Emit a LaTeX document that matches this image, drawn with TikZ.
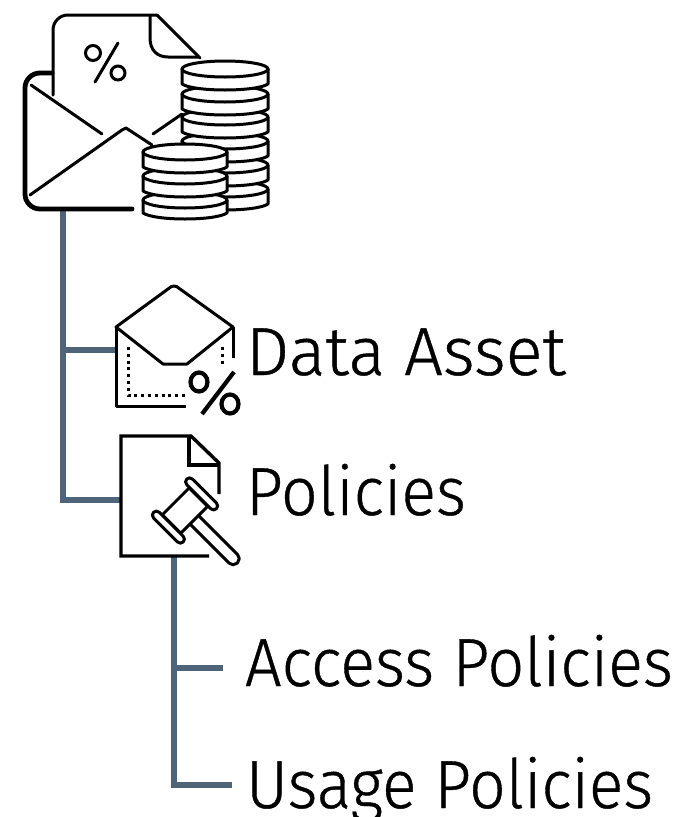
\documentclass[tikz,border=0pt]{standalone}
\usepackage{fontspec}
\setmainfont{Fira Sans Light}[FakeBold=0.6]
\definecolor{connblue}{HTML}{4F6478}
\newcommand{\coinshape}[4]{% cx, ellipse cy, rx, height
  \filldraw[ico,fill=white] (#1-#3,#2) -- (#1-#3,#2+#4-6) .. controls (#1-#3+12,#2+#4+2) and (#1+#3-12,#2+#4+2) .. (#1+#3,#2+#4-6) -- (#1+#3,#2) -- cycle;
  \filldraw[ico,fill=white] (#1,#2) ellipse ({#3} and 8);
}
\tikzset{
  ico/.style={draw=black,line width=3pt,line join=round,line cap=round},
  thickico/.style={draw=black,line width=4.8pt,line join=round,line cap=round},
  conn/.style={draw=connblue,line width=6pt,line join=miter},
  lab/.style={anchor=base west,inner sep=0pt,outer sep=0pt,text=black,font=\fontsize{68}{72}\selectfont},
  pct/.style={draw=black,line width=3pt,line cap=round},
}
\begin{document}
\begin{tikzpicture}[x=1pt,y=-1pt]
\useasboundingbox (0,0) rectangle (697,817);
\clip (0,0) rectangle (697,817);
\fill[white] (0,0) rectangle (697,817);
% anchor points for the connectors
\coordinate (rootfoot) at (63,210);
\coordinate (dataicon) at (116,350);
\coordinate (policyicon) at (121,500);
\coordinate (policyfoot) at (174,557);
\coordinate (accessend) at (223,668);
\coordinate (usageend) at (232,785);
% connectors
\draw[conn] (rootfoot) |- (policyicon);
\draw[conn] (rootfoot |- dataicon) -- (dataicon);
\draw[conn] (policyfoot) |- (usageend);
\draw[conn] (policyfoot |- accessend) -- (accessend);
% root icon: letter
\draw[ico,rounded corners=15pt] (53,95) -- (53,15) -- (157,15);
\draw[ico] (157,15) -- (200,58);
\draw[ico] (150,16) -- (150,38) .. controls (150,50) and (157,57) .. (168,57) -- (198,57);
\draw[pct] (93,53) circle (7.5);
\draw[pct] (118,73) circle (7);
\draw[pct] (118,43) -- (95,82);
% root icon: envelope
\draw[thickico,rounded corners=15pt] (52,73) -- (25,73) -- (25,209) -- (132,209);
\draw[ico] (31,85) -- (102,134);
\draw[ico] (30,195) -- (122,130) -- (126,128) -- (152,145);
\draw[ico] (153,134) -- (182,114);
% root icon: coins
\coinshape{225}{189}{43}{21}
\coinshape{225}{165}{43}{21}
\coinshape{225}{141}{43}{21}
\coinshape{225}{117}{43}{21}
\coinshape{225}{94}{43}{21}
\coinshape{225}{69}{43}{21}
\coinshape{185}{200}{42}{19}
\coinshape{185}{176}{42}{21}
\coinshape{185}{152}{42}{21}
% data asset icon
\draw[ico] (116,327) -- (168,289) .. controls (172,285) and (176,285) .. (180,289) -- (233,327) -- (187,364) -- (163,364) -- cycle;
\draw[ico,line cap=butt] (116,327) -- (116,406) -- (186,406);
\draw[ico,line cap=butt] (233,327) -- (233,358);
\draw[draw=black,line width=3pt,dash pattern=on 3pt off 3.8pt] (128,347) -- (128,395) -- (186,395);
\draw[draw=black,line width=3pt,dash pattern=on 3pt off 3.8pt] (222,347) -- (222,366);
\draw[draw=black,line width=4.2pt] (199,382) ellipse (8.5 and 9.5);
\draw[draw=black,line width=4.2pt] (230,404) ellipse (8.5 and 9.5);
\draw[draw=black,line width=4.2pt] (234,372) -- (202,414);
% policies icon
\draw[draw=black,line width=3.4pt,line join=miter] (209,556) -- (121,556) -- (121,436) -- (191,436) -- (219,463) -- (219,494);
\draw[draw=black,line width=3.4pt,line join=miter] (189,436) -- (189,465) -- (219,465);
\begin{scope}[shift={(185,510.5)},rotate=-45]
  \filldraw[ico,fill=white,rounded corners=5.5pt] (8,-6) rectangle (74,6);
  \filldraw[ico,fill=white] (-13,-19) rectangle (13,19);
  \filldraw[ico,fill=white,rounded corners=4pt] (-21,19.5) rectangle (21,27.5);
  \filldraw[ico,fill=white,rounded corners=4pt] (-21,-27.5) rectangle (21,-19.5);
\end{scope}
% labels
\node[lab] (dataasset) at (246,375) {\scalebox{1.008}[1]{Data Asset}};
\node[lab] (policies) at (246,515) {\scalebox{.95}[1]{Policies}};
\node[lab] (access) at (245,686) {\scalebox{.953}[1]{Access Policies}};
\node[lab] (usage) at (246,808) {\scalebox{.945}[1]{Usage Policies}};
\end{tikzpicture}
\end{document}
